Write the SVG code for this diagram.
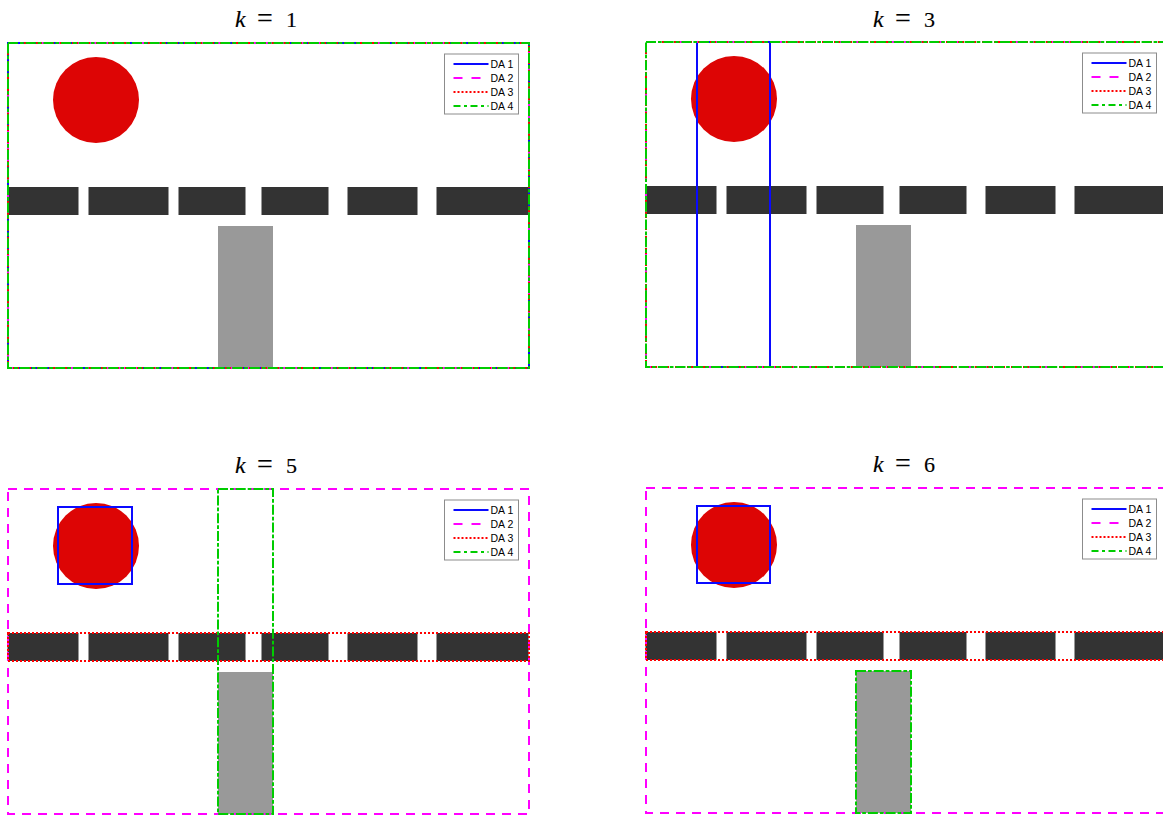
<svg xmlns="http://www.w3.org/2000/svg" xmlns:xlink="http://www.w3.org/1999/xlink" width="1163" height="818" viewBox="0 0 1163 818">
  <style>
    .bg { fill: #ffffff; }
    .ball { fill: #dd0505; }
    .bar { fill: #333333; }
    .post { fill: #999999; }
    .da { fill: none; stroke-width: 2; }
    .da1 { stroke: #0a0aff; }
    .da2 { stroke: #ff00ff; stroke-dasharray: 9 7; }
    .da3 { stroke: #ff0000; stroke-dasharray: 2 2; }
    .da4 { stroke: #00cc00; stroke-dasharray: 10 2 3.7 2; }
    .lg-box { fill: #ffffff; stroke: #8c8c8c; stroke-width: 1; }
    .lg-line { fill: none; stroke-width: 2; }
    .lg2 { stroke: #ff00ff; stroke-dasharray: 9 9; }
    .lg3 { stroke: #ff0000; stroke-dasharray: 2 2; }
    .lg4 { stroke: #00cc00; stroke-dasharray: 7 3.5 3 3.5; }
    .lg-text { font-family: "Liberation Sans", Arial, sans-serif; font-size: 10.5px; fill: #000000; }
    .title { font-family: "Liberation Serif", "Times New Roman", serif; font-size: 22px; fill: #000000; stroke: #000000; stroke-width: 0.15px; }
    .title .var { font-style: italic; font-size: 24px; }
    .title .eq { font-size: 28px; }
  </style>
  <defs>
    <!-- static scene: ball, dashed barrier, post -->
    <g id="scene">
      <circle class="ball" cx="88.5" cy="57.5" r="43"/>
      <rect class="bar" x="0" y="144.5" width="71" height="28"/>
      <rect class="bar" x="81" y="144.5" width="80" height="28"/>
      <rect class="bar" x="171" y="144.5" width="67" height="28"/>
      <rect class="bar" x="254" y="144.5" width="67" height="28"/>
      <rect class="bar" x="340" y="144.5" width="70" height="28"/>
      <rect class="bar" x="429" y="144.5" width="92" height="28"/>
      <rect class="post" x="210.5" y="183.5" width="55" height="142"/>
    </g>
    <!-- legend for the four areas -->
    <g id="legend">
      <rect class="lg-box" x="437" y="11.5" width="74" height="60"/>
      <line class="lg-line da1" x1="446" y1="21.5" x2="481" y2="21.5"/>
      <line class="lg-line lg2" x1="446" y1="35.5" x2="481" y2="35.5"/>
      <line class="lg-line lg3" x1="446" y1="49.5" x2="481" y2="49.5"/>
      <line class="lg-line lg4" x1="446" y1="63.5" x2="481" y2="63.5"/>
      <text class="lg-text" x="483" y="25.5">DA 1</text>
      <text class="lg-text" x="483" y="39.5">DA 2</text>
      <text class="lg-text" x="483" y="53.5">DA 3</text>
      <text class="lg-text" x="483" y="67.5">DA 4</text>
    </g>
  </defs>

  <rect class="bg" x="0" y="0" width="1163" height="818"/>

  <!-- k = 1 -->
  <g id="panel-k1">
    <text class="title" y="27"><tspan class="var" x="235">k</tspan><tspan class="eq" x="257">=</tspan><tspan x="286">1</tspan></text>
    <g transform="translate(7.5,42.5)">
      <use xlink:href="#scene"/>
      <rect class="da da1" x="0.5" y="0.5" width="521" height="325"/>
      <rect class="da da2" x="0.5" y="0.5" width="521" height="325"/>
      <rect class="da da3" x="0.5" y="0.5" width="521" height="325"/>
      <rect class="da da4" x="0.5" y="0.5" width="521" height="325"/>
      <use xlink:href="#legend"/>
    </g>
  </g>

  <!-- k = 3 -->
  <g id="panel-k3">
    <text class="title" y="27"><tspan class="var" x="873">k</tspan><tspan class="eq" x="895">=</tspan><tspan x="924">3</tspan></text>
    <g transform="translate(645.5,41.5)">
      <use xlink:href="#scene"/>
      <rect class="da da1" x="51.5" y="0.5" width="73" height="325"/>
      <rect class="da da2" x="0.5" y="0.5" width="521" height="325"/>
      <rect class="da da3" x="0.5" y="0.5" width="521" height="325"/>
      <rect class="da da4" x="0.5" y="0.5" width="521" height="325"/>
      <use xlink:href="#legend"/>
    </g>
  </g>

  <!-- k = 5 -->
  <g id="panel-k5">
    <text class="title" y="473"><tspan class="var" x="235">k</tspan><tspan class="eq" x="257">=</tspan><tspan x="286">5</tspan></text>
    <g transform="translate(7.5,488.5)">
      <use xlink:href="#scene"/>
      <rect class="da da1" x="50.5" y="18.5" width="74" height="77"/>
      <rect class="da da2" x="0.5" y="0.5" width="521" height="325"/>
      <rect class="da da3" x="0.5" y="144.5" width="521" height="28"/>
      <rect class="da da4" x="210.5" y="0.5" width="55" height="325"/>
      <use xlink:href="#legend"/>
    </g>
  </g>

  <!-- k = 6 -->
  <g id="panel-k6">
    <text class="title" y="472"><tspan class="var" x="873">k</tspan><tspan class="eq" x="895">=</tspan><tspan x="924">6</tspan></text>
    <g transform="translate(645.5,487.5)">
      <use xlink:href="#scene"/>
      <rect class="da da1" x="51.5" y="18.5" width="73" height="77"/>
      <rect class="da da2" x="0.5" y="0.5" width="521" height="325"/>
      <rect class="da da3" x="0.5" y="144.5" width="521" height="28"/>
      <rect class="da da4" x="210.5" y="183.5" width="55" height="142"/>
      <use xlink:href="#legend"/>
    </g>
  </g>
</svg>
